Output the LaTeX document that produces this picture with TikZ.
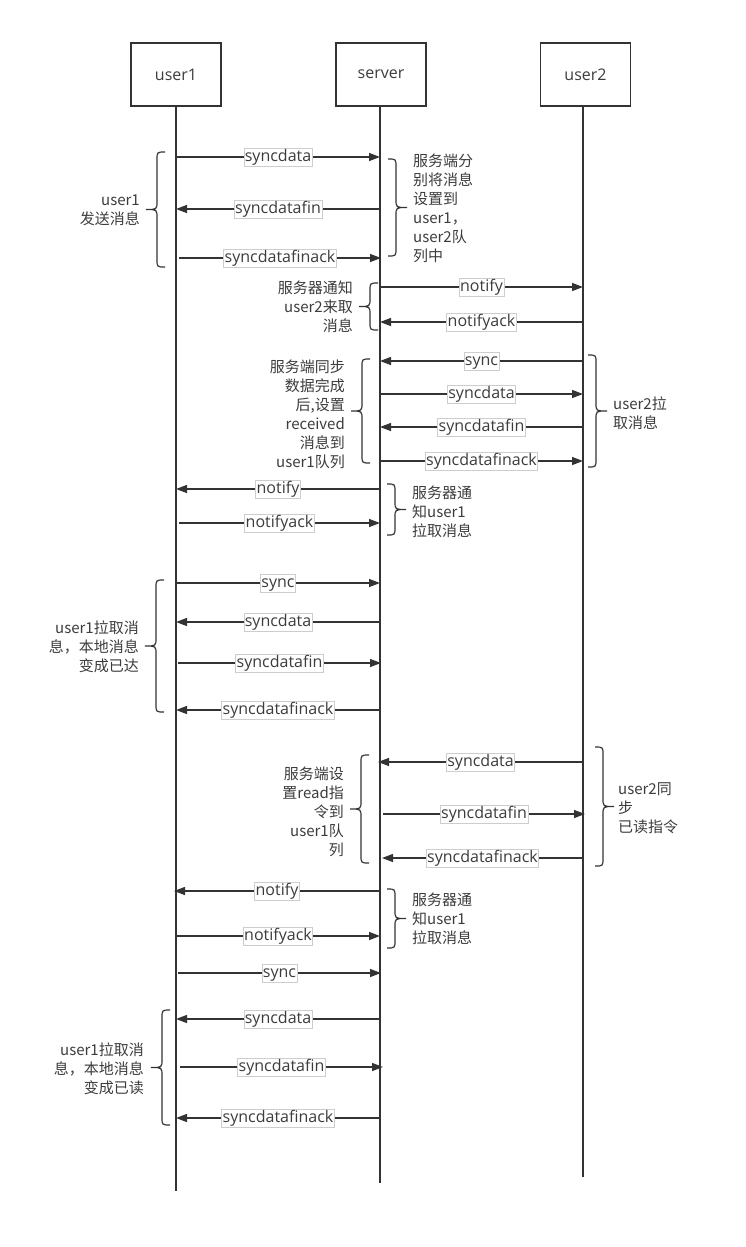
\documentclass[tikz,border=0pt]{standalone}
\usepackage{fontspec}
\setmainfont{Open Sans}
\newfontfamily\cjk{Noto Sans CJK SC}
\usetikzlibrary{arrows.meta}
\definecolor{ink}{RGB}{51,51,51}
\definecolor{txt}{RGB}{60,60,60}
\definecolor{lblborder}{RGB}{205,205,205}
\tikzset{
  actor/.style={draw=ink, line width=1.4bp, minimum width=90bp, minimum height=63bp, inner sep=0pt, text=txt, font=\fontsize{16bp}{18bp}\selectfont},
  life/.style={draw=ink, line width=1.4bp},
  msgarrow/.style={draw=ink, line width=1.4bp, -{Triangle[length=11bp,width=8bp]}},
  lbl/.style={draw=lblborder, line width=0.6bp, fill=white, text=txt, inner xsep=1bp, inner ysep=1bp, text height=12bp, text depth=4bp, font=\fontsize{16bp}{18bp}\selectfont},
  brc/.style={draw=ink, line width=1.2bp},
  note/.style={text=txt, inner sep=0pt, font=\cjk\fontsize{15bp}{19bp}\selectfont},
  noteL/.style={note, align=right, anchor=east},
  noteR/.style={note, align=left, anchor=west},
}
\newcommand\seqmsg[5]{% name, x1, x2, y, label
  \coordinate (#1a) at (#2,#4);
  \coordinate (#1b) at (#3,#4);
  \draw[msgarrow] (#1a) -- node[lbl] (#1l) {#5} (#1b);}
\newcommand\seqbrace[4]{% xe, ytop, ybot, dir
  \pgfmathsetmacro\bv{#1+(#4)*8}
  \pgfmathsetmacro\bt{#1+(#4)*19}
  \pgfmathsetmacro\bm{(#2+#3)/2}
  \draw[brc] (#1,#2) .. controls (\bv,#2) .. (\bv,{#2+8})
    -- (\bv,{\bm-8}) .. controls (\bv,\bm) .. (\bt,\bm)
    .. controls (\bv,\bm) .. (\bv,{\bm+8})
    -- (\bv,{#3-8}) .. controls (\bv,#3) .. (#1,#3);}
\begin{document}
\begin{tikzpicture}[x=1bp,y=-1bp]
\useasboundingbox (0,0) rectangle (746,1247);
% actors
\node[actor] (u1) at (176,74.5) {user1};
\node[actor] (sv) at (381,74.5) {server};
\node[actor] (u2) at (585.5,74.5) {user2};
\coordinate (u1end) at (176,1191);
\coordinate (svend) at (380,1183);
\coordinate (u2end) at (583,1177);
\draw[life] (u1.south -| u1end) -- (u1end);
\draw[life] (sv.south -| svend) -- (svend);
\draw[life] (u2.south -| u2end) -- (u2end);
% messages
\seqmsg{m1}{176}{380}{157}{syncdata}
\seqmsg{m2}{380}{176}{209}{syncdatafin}
\seqmsg{m3}{179}{381}{258}{syncdatafinack}
\seqmsg{m4}{380}{583}{287}{notify}
\seqmsg{m5}{583}{380}{322}{notifyack}
\seqmsg{m6}{583}{380}{361}{sync}
\seqmsg{m7}{380}{583}{394}{syncdata}
\seqmsg{m8}{583}{380}{427}{syncdatafin}
\seqmsg{m9}{380}{583}{461}{syncdatafinack}
\seqmsg{m10}{380}{176}{489}{notify}
\seqmsg{m11}{179}{380}{523}{notifyack}
\seqmsg{m12}{176}{380}{583}{sync}
\seqmsg{m13}{380}{176}{622}{syncdata}
\seqmsg{m14}{178}{381}{663}{syncdatafin}
\seqmsg{m15}{380}{176}{710}{syncdatafinack}
\seqmsg{m16}{583}{378}{762}{syncdata}
\seqmsg{m17}{383}{585}{814}{syncdatafin}
\seqmsg{m18}{583}{382}{858}{syncdatafinack}
\seqmsg{m19}{380}{174}{891}{notify}
\seqmsg{m20}{176}{380}{936}{notifyack}
\seqmsg{m21}{178}{381}{973}{sync}
\seqmsg{m22}{380}{176}{1019}{syncdata}
\seqmsg{m23}{180}{383}{1067}{syncdatafin}
\seqmsg{m24}{380}{176}{1118}{syncdatafinack}
% braces
\seqbrace{165}{152}{267}{-1}
\seqbrace{388}{159}{256}{1}
\seqbrace{378}{283}{330}{-1}
\seqbrace{370}{359}{463}{-1}
\seqbrace{588}{355}{467}{1}
\seqbrace{387}{484}{535}{1}
\seqbrace{164}{580}{712}{-1}
\seqbrace{369}{755}{863}{-1}
\seqbrace{595}{747}{866}{1}
\seqbrace{387}{889}{948}{1}
\seqbrace{170}{1010}{1125}{-1}
% notes
\node[noteL] (n1) at (140,210) {user1\\发送消息};
\node[noteR] (n2) at (413,208.5) {服务端分\\别将消息\\设置到\\user1，\\user2队\\列中};
\node[noteL] (n3) at (353,307) {服务器通知\\user2来取\\消息};
\node[noteL] (n4) at (345,414) {服务端同步\\数据完成\\后,设置\\received\\消息到\\user1队列};
\node[noteR] (n5) at (613,413) {user2拉\\取消息};
\node[noteR] (n6) at (412,512) {服务器通\\知user1\\拉取消息};
\node[noteL] (n7) at (139,647) {user1拉取消\\息，本地消息\\变成已达};
\node[noteL] (n8) at (344,811.5) {服务端设\\置read指\\令到\\user1队\\列};
\node[noteR] (n9) at (618,808) {user2同\\步\\已读指令};
\node[noteR] (n10) at (412,919) {服务器通\\知user1\\拉取消息};
\node[noteL] (n11) at (144,1069) {user1拉取消\\息，本地消息\\变成已读};
\end{tikzpicture}
\end{document}
